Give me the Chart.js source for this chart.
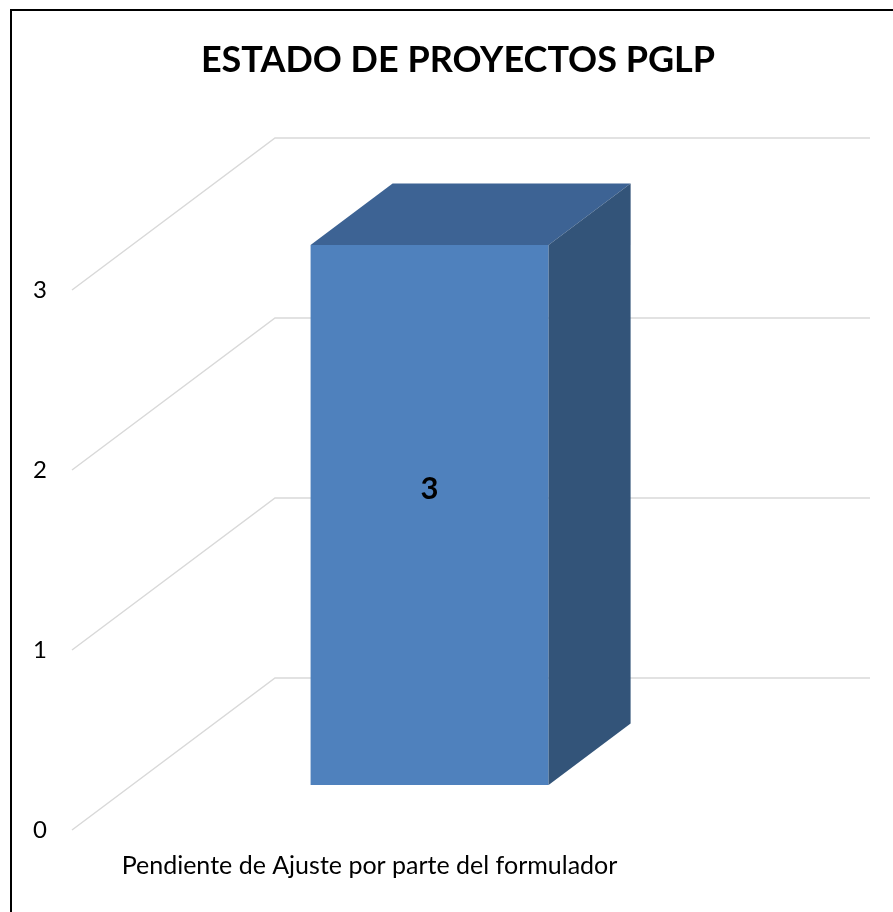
<!DOCTYPE html>
<html>
<head>
<meta charset="utf-8">
<script src="https://cdn.jsdelivr.net/npm/chart.js@4.4.1/dist/chart.umd.min.js"></script>
<style>
  html, body { margin: 0; padding: 0; background: #ffffff; }
  #wrap { width: 893px; height: 912px; position: relative; }
</style>
</head>
<body>
<div id="wrap"><canvas id="c" width="893" height="912"></canvas></div>
<script>
// ---- data ----
const chartTitle = 'ESTADO DE PROYECTOS PGLP';
const categories = ['Pendiente de Ajuste por parte del formulador'];
const seriesValues = [3];
const yTickValues = [0, 1, 2, 3];

// ---- 3D look ----
const DEPTH_DX = 203, DEPTH_DY = 152;   // offset of back wall from front plane
const BAR_FRONT = 0.296, BAR_BACK = 0.70; // bar depth fractions
const GRID_COLOR = '#D9D9D9';

function proj(x, y, d) { return [x + DEPTH_DX * d, y - DEPTH_DY * d]; }

const threeD = {
  id: 'threeD',
  beforeDatasetsDraw(chart) {
    const ctx = chart.ctx, ys = chart.scales.y, ca = chart.chartArea;
    ctx.save();
    ctx.strokeStyle = GRID_COLOR;
    ctx.lineWidth = 1.5;
    yTickValues.forEach(v => {
      const yp = ys.getPixelForValue(v);
      const [bx, by] = proj(ca.left, yp, 1);
      const [rx] = proj(ca.right, yp, 1);
      ctx.beginPath();
      ctx.moveTo(ca.left, yp);
      ctx.lineTo(bx, by);
      ctx.lineTo(rx, by);
      ctx.stroke();
    });
    ctx.restore();
  },
  beforeDatasetDraw(chart) {
    const [dx, dy] = proj(0, 0, BAR_FRONT);
    chart.ctx.save();
    chart.ctx.translate(dx, dy);
  },
  afterDatasetDraw(chart) {
    const ctx = chart.ctx;
    ctx.restore();
    const meta = chart.getDatasetMeta(0);
    meta.data.forEach((bar, i) => {
      const p = bar.getProps(['x', 'y', 'base', 'width'], true);
      const [fx, fy] = proj(0, 0, BAR_FRONT);
      const [kx, ky] = proj(0, 0, BAR_BACK);
      const L = p.x - p.width / 2, R = p.x + p.width / 2;
      const T = p.y, B = p.base;
      // top face
      ctx.save();
      ctx.fillStyle = '#3D6394';
      ctx.beginPath();
      ctx.moveTo(L + fx, T + fy);
      ctx.lineTo(R + fx, T + fy);
      ctx.lineTo(R + kx, T + ky);
      ctx.lineTo(L + kx, T + ky);
      ctx.closePath();
      ctx.fill();
      // side face
      ctx.fillStyle = '#335479';
      ctx.beginPath();
      ctx.moveTo(R + fx, T + fy);
      ctx.lineTo(R + kx, T + ky);
      ctx.lineTo(R + kx, B + ky);
      ctx.lineTo(R + fx, B + fy);
      ctx.closePath();
      ctx.fill();
      // value label
      ctx.fillStyle = '#000000';
      ctx.font = 'bold 31px Lato';
      ctx.textAlign = 'center';
      ctx.textBaseline = 'middle';
      ctx.fillText(String(seriesValues[i]), p.x + fx, (T + B) / 2 + fy - 26);
      ctx.restore();
    });
  },
  afterDraw(chart) {
    const ctx = chart.ctx;
    ctx.save();
    // title
    ctx.fillStyle = '#000000';
    ctx.font = 'bold 36px Lato';
    ctx.textAlign = 'center';
    ctx.textBaseline = 'middle';
    ctx.fillText(chartTitle, 458, 60);
    // outer border
    ctx.strokeStyle = '#000000';
    ctx.lineWidth = 2;
    ctx.strokeRect(11, 10, 900, 920);
    ctx.restore();
  }
};

new Chart(document.getElementById('c'), {
  type: 'bar',
  data: {
    labels: categories,
    datasets: [{
      data: seriesValues,
      backgroundColor: '#4F81BD',
      borderWidth: 0,
      barPercentage: 0.4,
      categoryPercentage: 1.0
    }]
  },
  options: {
    responsive: false,
    animation: false,
    layout: { padding: { left: 0, right: 226, top: 290, bottom: 0 } },
    plugins: {
      legend: { display: false },
      tooltip: { enabled: false },
      title: { display: false }
    },
    scales: {
      x: {
        grid: { display: false, drawTicks: false },
        border: { display: false },
        ticks: { color: '#000000', font: { family: 'Lato', size: 25 }, padding: 21, maxRotation: 0 },
        afterFit(s) { s.height = 82; }
      },
      y: {
        min: 0, max: 3,
        grid: { display: false, drawTicks: false },
        border: { display: false },
        afterBuildTicks(s) { s.ticks = yTickValues.map(v => ({ value: v })); },
        ticks: { color: '#000000', font: { family: 'Lato', size: 24 }, padding: 25 },
        afterFit(s) { s.width = 72; }
      }
    }
  },
  plugins: [threeD]
});
</script>
</body>
</html>
